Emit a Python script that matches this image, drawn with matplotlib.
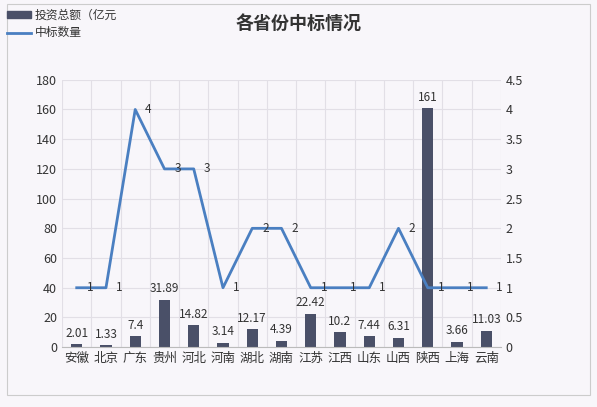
import matplotlib.pyplot as plt
import numpy as np

plt.rcParams['font.family'] = ['Noto Sans CJK SC', 'DejaVu Sans']

provinces = ["安徽", "北京", "广东", "贵州", "河北", "河南", "湖北", "湖南",
             "江苏", "江西", "山东", "山西", "陕西", "上海", "云南"]
invest = [2.01, 1.33, 7.4, 31.89, 14.82, 3.14, 12.17, 4.39,
          22.42, 10.2, 7.44, 6.31, 161, 3.66, 11.03]
invest_labels = ["2.01", "1.33", "7.4", "31.89", "14.82", "3.14", "12.17", "4.39",
                 "22.42", "10.2", "7.44", "6.31", "161", "3.66", "11.03"]
bids = [1, 1, 4, 3, 3, 1, 2, 2, 1, 1, 1, 2, 1, 1, 1]

bar_color = "#4a5068"
line_color = "#4a7fc1"
bg = "#f8f6fa"
grid_color = "#e2dfe6"

fig = plt.figure(figsize=(5.97, 4.07), dpi=100, facecolor=bg)
ax = fig.add_axes([0.104, 0.147, 0.735, 0.657], facecolor=bg)
ax2 = ax.twinx()

x = np.arange(len(provinces))
ax.bar(x, invest, width=0.38, color=bar_color, zorder=2)
for xi, v, lab in zip(x, invest, invest_labels):
    ax.text(xi, v + 3, lab, ha="center", va="bottom", fontsize=8.5, color="#333333")

ax2.plot(x, bids, color=line_color, lw=2, zorder=3)
for xi, v in zip(x, bids):
    ax2.text(xi + 0.45, v, str(v), ha="center", va="center", fontsize=8.5, color="#333333")

ax.set_xlim(-0.5, len(provinces) - 0.5)
ax.set_ylim(0, 180)
ax.set_yticks(range(0, 181, 20))
ax2.set_ylim(0, 4.5)
ax2.set_yticks(np.arange(0, 4.51, 0.5))
ax2.set_yticklabels(["0", "0.5", "1", "1.5", "2", "2.5", "3", "3.5", "4", "4.5"])
ax.set_xticks(x)
ax.set_xticklabels(provinces)
ax.set_xticks(np.arange(-0.5, len(provinces), 1), minor=True)
ax.grid(True, axis="y", color=grid_color, lw=0.8, zorder=0)
ax.grid(True, axis="x", which="minor", color=grid_color, lw=0.8, zorder=0)
ax.tick_params(axis="x", which="both", length=0, labelsize=9, colors="#333333")
ax.tick_params(axis="y", length=0, labelsize=9, colors="#333333")
ax2.tick_params(axis="y", length=0, labelsize=9, colors="#333333")
for a in (ax, ax2):
    for s in a.spines.values():
        s.set_visible(False)
ax.spines["bottom"].set_visible(True)
ax.spines["bottom"].set_color("#bbbbbb")

fig.text(0.5, 0.94, "各省份中标情况", ha="center", va="center", fontsize=13,
         fontweight="bold", color="#333333")

fig.patches.append(plt.Rectangle((0.012, 0.03), 0.976, 0.96, transform=fig.transFigure,
                                 fill=False, ec="#cccccc", lw=0.8))
fig.patches.append(plt.Rectangle((0.012, 0.955), 0.04, 0.018, transform=fig.transFigure,
                                 color=bar_color))
fig.lines.append(plt.Line2D([0.012, 0.052], [0.92, 0.92], transform=fig.transFigure,
                            color=line_color, lw=2))
fig.text(0.058, 0.964, "投资总额（亿元", va="center", fontsize=8.5, color="#333333")
fig.text(0.058, 0.92, "中标数量", va="center", fontsize=8.5, color="#333333")

fig.savefig("out.png", dpi=100, facecolor=bg)
